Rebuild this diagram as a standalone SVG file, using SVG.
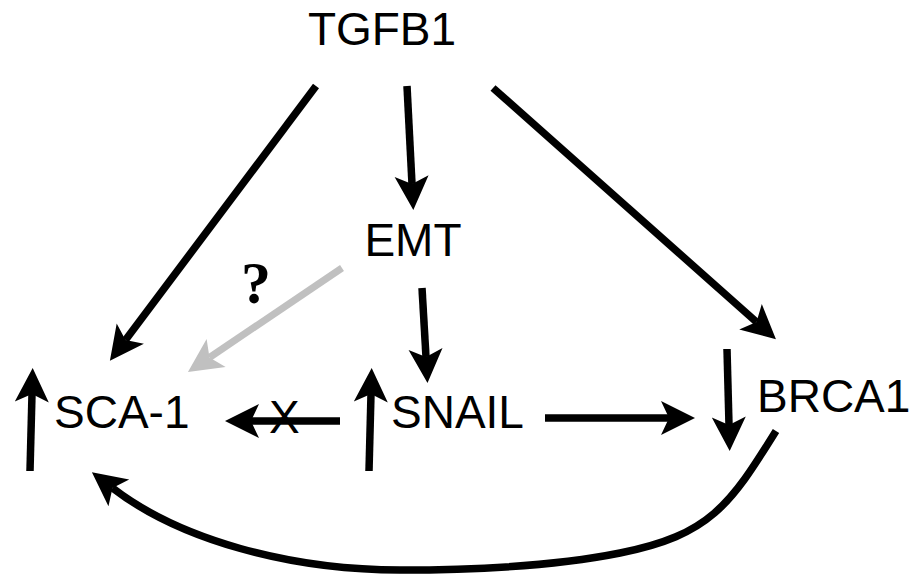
<svg xmlns="http://www.w3.org/2000/svg" width="921" height="578" viewBox="0 0 921 578">
<style>
.lbl{font-family:"Liberation Sans",Arial,sans-serif;font-size:46px;fill:#000}
.c{fill:none;stroke:#000;stroke-width:7.5}
.g{fill:none;stroke:#c0c0c0;stroke-width:7}
</style>
<defs>
<marker id="ah" markerUnits="userSpaceOnUse" markerWidth="60" markerHeight="60" refX="0" refY="0" orient="auto" overflow="visible">
<path d="M26,0 L-8,-17 L0,0 L-8,17 Z" fill="#000"/>
</marker>
<marker id="ahg" markerUnits="userSpaceOnUse" markerWidth="60" markerHeight="60" refX="0" refY="0" orient="auto" overflow="visible">
<path d="M26,0 L-8,-17 L0,0 L-8,17 Z" fill="#c0c0c0"/>
</marker>
</defs>
<rect width="921" height="578" fill="#fff"/>
<g id="connectors">
<line class="c" x1="316" y1="86" x2="125.5" y2="340" marker-end="url(#ah)"/>
<line class="c" x1="407" y1="86" x2="412" y2="184" marker-end="url(#ah)"/>
<line class="c" x1="493" y1="88" x2="756.5" y2="322" marker-end="url(#ah)"/>
<line class="c" x1="422" y1="288" x2="426" y2="357" marker-end="url(#ah)"/>
<line class="g" x1="342" y1="268" x2="209.5" y2="357.5" marker-end="url(#ahg)"/>
<line class="c" x1="340" y1="421" x2="251" y2="421" marker-end="url(#ah)"/>
<line class="c" x1="545" y1="418" x2="669" y2="418" marker-end="url(#ah)"/>
<path class="c" d="M776,431 C730,505 710,535 620,553 C560,565 480,570 400,570 C290,570 180,540 112.5,488" marker-end="url(#ah)"/>
</g>
<g id="up-sca1"><line class="c" x1="30" y1="471" x2="32" y2="394" marker-end="url(#ah)"/></g>
<g id="up-snail"><line class="c" x1="369" y1="471" x2="371" y2="394" marker-end="url(#ah)"/></g>
<g id="down-brca1"><line class="c" x1="727" y1="349" x2="729" y2="425" marker-end="url(#ah)"/></g>
<g id="TGFB1"><text class="lbl" x="382" y="45" text-anchor="middle">TGFB1</text></g>
<g id="EMT"><text class="lbl" x="413" y="256" text-anchor="middle">EMT</text></g>
<g id="SCA-1"><text class="lbl" x="54" y="428">SCA-1</text></g>
<g id="SNAIL"><text class="lbl" x="391" y="428">SNAIL</text></g>
<g id="BRCA1"><text class="lbl" x="757" y="412">BRCA1</text></g>
<g id="block-x"><text class="lbl" x="269" y="433" font-size="44">X</text></g>
<g id="question"><text x="241" y="303" font-family="'Liberation Serif','Times New Roman',serif" font-weight="bold" font-size="60">?</text></g>
</svg>
